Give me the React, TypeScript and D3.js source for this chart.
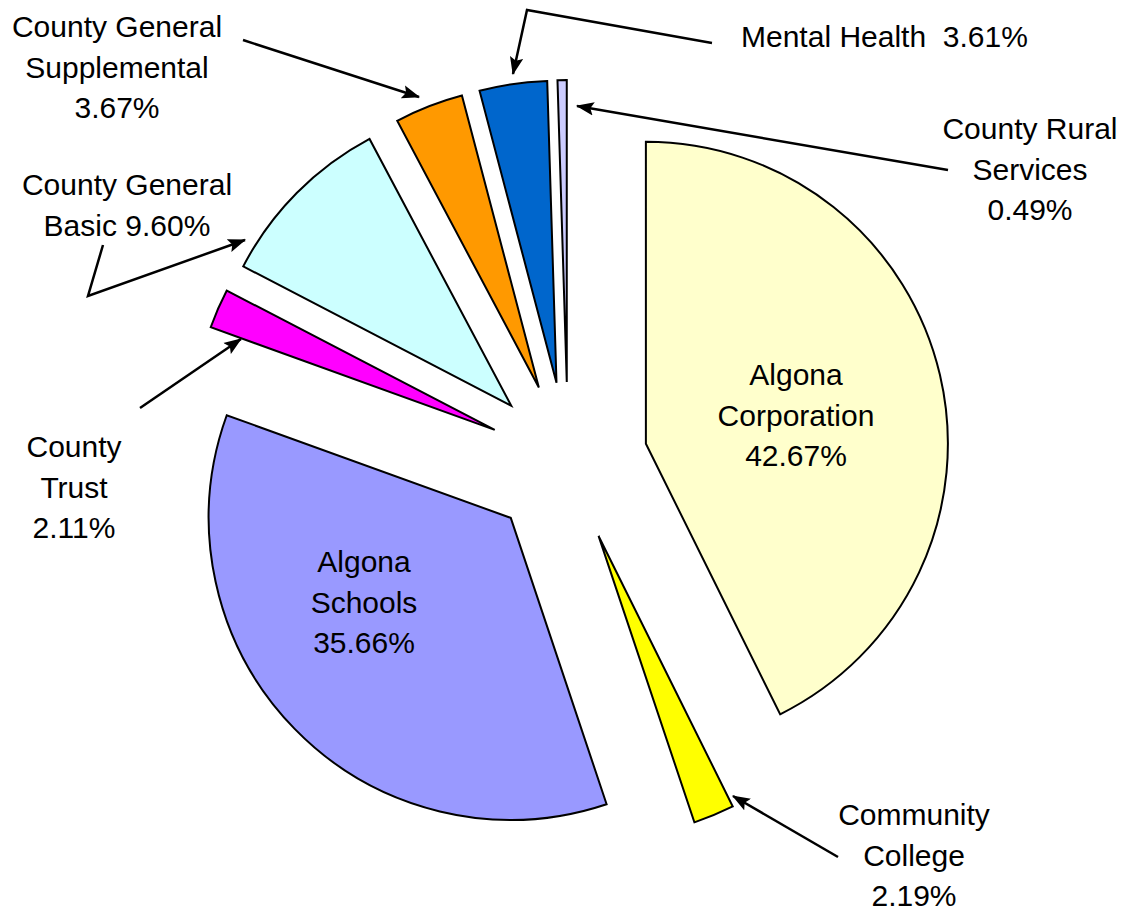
import React from "react";
import * as d3 from "d3";

const categories = [
  "Algona Corporation",
  "Community College",
  "Algona Schools",
  "County Trust",
  "County General Basic",
  "County General Supplemental",
  "Mental Health",
  "County Rural Services",
];
const values = [42.67, 2.19, 35.66, 2.11, 9.6, 3.67, 3.61, 0.49];
const colors = ["#FFFFCC", "#FFFF00", "#9999FF", "#FF00FF", "#CCFFFF", "#FF9900", "#0066CC", "#CCCCFF"];
// label text lines; "{p}" is replaced by the formatted percentage
const labelLines = [
  ["Algona", "Corporation", "{p}"],
  ["Community", "College", "{p}"],
  ["Algona", "Schools", "{p}"],
  ["County", "Trust", "{p}"],
  ["County General", "Basic {p}"],
  ["County General", "Supplemental", "{p}"],
  ["Mental Health  {p}"],
  ["County Rural", "Services", "{p}"],
];

// layout (positions) kept separate from the data
const W = 1125;
const H = 913;
const CX = 568;
const CY = 462;
const R = 302;
const EXPLODE = 80;
const LINE_H = 40.5;
const labelPos: [number, number, string][] = [
  [796, 385, "middle"],
  [914, 825, "middle"],
  [364, 572, "middle"],
  [74, 457, "middle"],
  [127, 195, "middle"],
  [117, 37, "middle"],
  [741, 47, "start"],
  [1030, 139, "middle"],
];
const leaders: [number, number][][] = [
  [[838, 857], [733, 796]],
  [[140, 408], [241, 339]],
  [[103, 245], [88, 296], [245, 240]],
  [[243, 40], [419, 97]],
  [[712, 43], [527, 10], [513, 74]],
  [[948, 170], [577, 106]],
];

export default function App() {
  const pie = d3
    .pie<number>()
    .sort(null)
    .value((d) => d)
    .startAngle(0)
    .endAngle(2 * Math.PI);
  const arcs = pie(values);
  const arcGen = d3.arc<d3.PieArcDatum<number>>().innerRadius(0).outerRadius(R);
  const fmt = (v: number) => v.toFixed(2) + "%";
  const line = d3.line();

  return (
    <svg
      width={W}
      height={H}
      style={{ position: "absolute", left: 0, top: 0, background: "#fff" }}
      fontFamily="'Liberation Sans', Arial, sans-serif"
    >
      <defs>
        <marker
          id="arrow"
          markerUnits="userSpaceOnUse"
          markerWidth={18}
          markerHeight={14}
          viewBox="0 0 16 12"
          refX={15}
          refY={6}
          orient="auto"
        >
          <path d="M0,0 L16,6 L0,12 L3,6 Z" fill="#000" />
        </marker>
      </defs>
      <g transform={`translate(${CX},${CY})`}>
        {arcs.map((a, i) => {
          const mid = (a.startAngle + a.endAngle) / 2;
          const dx = EXPLODE * Math.sin(mid);
          const dy = -EXPLODE * Math.cos(mid);
          return (
            <path
              key={categories[i]}
              d={arcGen(a) || ""}
              transform={`translate(${dx},${dy})`}
              fill={colors[i]}
              stroke="#000"
              strokeWidth={2}
              strokeLinejoin="miter"
            />
          );
        })}
      </g>
      {leaders.map((pts, i) => (
        <path
          key={"l" + i}
          d={line(pts) || ""}
          fill="none"
          stroke="#000"
          strokeWidth={2.5}
          markerEnd="url(#arrow)"
        />
      ))}
      {labelLines.map((lines, i) => {
        const [x, y, anchor] = labelPos[i];
        return (
          <text
            key={"t" + i}
            x={x}
            y={y}
            fontSize={30}
            textAnchor={anchor}
            fill="#000"
            style={{ whiteSpace: "pre" }}
          >
            {lines.map((ln, j) => (
              <tspan key={j} x={x} y={y + j * LINE_H}>
                {ln.replace("{p}", fmt(values[i]))}
              </tspan>
            ))}
          </text>
        );
      })}
    </svg>
  );
}
